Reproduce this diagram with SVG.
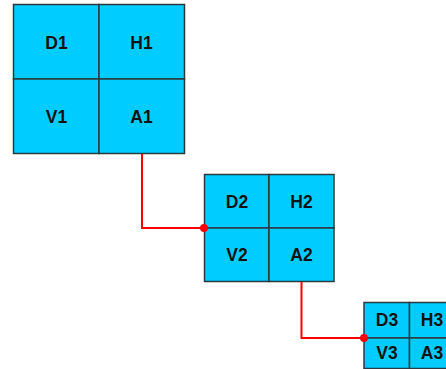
<svg xmlns="http://www.w3.org/2000/svg" width="446" height="369" viewBox="0 0 446 369">
<style>
.cell{fill:#00ccff;stroke:#2b3a40;stroke-width:1.5}
.t{font-family:"Liberation Sans",Arial,sans-serif;font-weight:bold;fill:#111;text-anchor:middle;dominant-baseline:central;font-size:17.5px}
.wire{fill:none;stroke:#ff0000;stroke-width:2}
</style>
<rect width="446" height="369" fill="#fff"/>
<g id="block1">
<rect class="cell" x="13.5" y="4.5" width="85.5" height="74.5"/>
<rect class="cell" x="99" y="4.5" width="85.5" height="74.5"/>
<rect class="cell" x="13.5" y="79" width="85.5" height="74.5"/>
<rect class="cell" x="99" y="79" width="85.5" height="74.5"/>
<text class="t" x="56.5" y="43">D1</text>
<text class="t" x="141.5" y="43">H1</text>
<text class="t" x="56.5" y="117">V1</text>
<text class="t" x="141.5" y="117">A1</text>
</g>
<g id="block2">
<rect class="cell" x="204.5" y="174.5" width="64.5" height="53.5"/>
<rect class="cell" x="269" y="174.5" width="65" height="53.5"/>
<rect class="cell" x="204.5" y="228" width="64.5" height="53.5"/>
<rect class="cell" x="269" y="228" width="65" height="53.5"/>
<text class="t" x="237" y="201.5">D2</text>
<text class="t" x="301.5" y="201.5">H2</text>
<text class="t" x="237" y="255">V2</text>
<text class="t" x="301.5" y="255">A2</text>
</g>
<g id="block3">
<rect class="cell" x="364" y="302.5" width="45.5" height="35.5"/>
<rect class="cell" x="409.5" y="302.5" width="45.5" height="35.5"/>
<rect class="cell" x="364" y="338" width="45.5" height="30.5"/>
<rect class="cell" x="409.5" y="338" width="45.5" height="30.5"/>
<text class="t" x="387" y="319.5">D3</text>
<text class="t" x="432" y="319.5">H3</text>
<text class="t" x="387" y="353">V3</text>
<text class="t" x="432" y="353">A3</text>
</g>
<g id="connectors">
<polyline class="wire" points="142,154 142,228 204,228"/>
<circle cx="204" cy="228" r="4" fill="#ff0000"/>
<polyline class="wire" points="301.5,282 301.5,338 364,338"/>
<circle cx="364" cy="338" r="4" fill="#ff0000"/>
</g>
</svg>
